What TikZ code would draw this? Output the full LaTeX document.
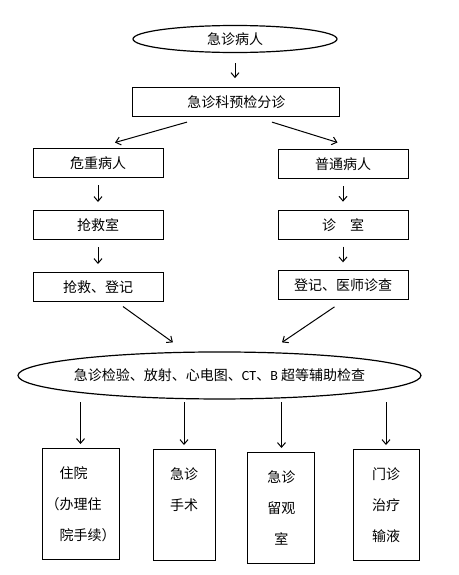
\documentclass[tikz,border=0pt]{standalone}
\usepackage{fontspec}
\setmainfont{Noto Sans CJK SC}
\newfontfamily\latinfont{Carlito}
\usetikzlibrary{arrows.meta, positioning, shapes, calc}

\begin{document}
\begin{tikzpicture}[node distance=24pt, line width=0.75pt,
    every node/.style={font=\fontsize{10.5pt}{23.25pt}\selectfont},
    box/.style={draw, rectangle, minimum width=97.5pt, minimum height=21.75pt, inner sep=0pt},
    oval/.style={draw, ellipse, inner sep=0pt, line width=0.9pt},
    tallbox/.style={draw, rectangle, minimum height=83.25pt, anchor=north},
    lines/.style={inner sep=0pt, align=center},
    arr/.style={-{Straight Barb[length=3.5pt, width=6pt]}}]
    \useasboundingbox (0,0) rectangle (343.5pt,-431.25pt);

    \node[oval, minimum width=153pt, minimum height=20.25pt] (patient) at (176.25pt,-29.25pt) {急诊病人};
    \node[box, minimum width=155.25pt, below=25.5pt of patient, xshift=1.1pt] (triage) {急诊科预检分诊};

    % left column
    \node[box] (critical) at (73.5pt,-122.25pt) {危重病人};
    \node[box, below=of critical] (rescueroom) {抢救室};
    \node[box, below=of rescueroom] (rescue) {抢救、登记};

    % right column
    \node[box] (normal) at (257.25pt,-123pt) {普通病人};
    \node[box, below=23pt of normal] (clinic) {诊\hspace{1em}室};
    \node[box, below=23pt of clinic] (doctor) {登记、医师诊查};

    \node[oval, inner xsep=-8pt, minimum width=302.25pt, minimum height=35.25pt] (exam) at (164.6pt,-281.6pt) {急诊检验、放射、心电图、{\latinfont CT}、{\latinfont B} 超等辅助检查};

    % outcomes
    \node[tallbox, minimum width=57.75pt] (inpatient) at (60.4pt,-336pt) {};
    \node[tallbox, minimum width=46.5pt] (surgery) at (138pt,-336.75pt) {};
    \node[tallbox, minimum width=50.25pt] (observe) at (211.1pt,-339pt) {};
    \node[tallbox, minimum width=49.5pt] (outpatient) at (289.5pt,-336.75pt) {};
    \node[lines, align=left, below=13.5pt of inpatient.north] (inpatienttext) {\hspace*{1em}住院\\（办理住\\\hspace*{1em}院手续）};
    \node[lines, below=13.5pt of surgery.north] (surgerytext) {急诊\\手术};
    \node[lines, below=13.5pt of observe.north] (observetext) {急诊\\留观\\室};
    \node[lines, below=13.5pt of outpatient.north] (outpatienttext) {门诊\\治疗\\输液};

    \draw[arr, shorten <=7.5pt, shorten >=6.75pt] (patient.south) -- (patient.south |- triage.north);
    \draw[arr] ($(triage.south)+(-37.1pt,-3.75pt)$) -- ($(critical.north)+(12.75pt,4.1pt)$);
    \draw[arr] ($(triage.south)+(26.6pt,-3.75pt)$) -- ($(normal.north)+(-4.1pt,4.9pt)$);
    \draw[arr, shorten <=5.25pt, shorten >=6pt] (critical) -- (rescueroom);
    \draw[arr, shorten <=5.25pt, shorten >=6pt] (rescueroom) -- (rescue);
    \draw[arr, shorten <=5.25pt, shorten >=6pt] (normal) -- (clinic);
    \draw[arr, shorten <=5.25pt, shorten >=6pt] (clinic) -- (doctor);
    \draw[arr] ($(rescue.south)+(18.75pt,-3.4pt)$) -- ($(exam.north)+(-34.9pt,6.75pt)$);
    \draw[arr] ($(doctor.south)+(-6.4pt,-4.9pt)$) -- ($(exam.north)+(46.9pt,6.75pt)$);
    \foreach \b in {inpatient, surgery, observe, outpatient}
        \draw[arr, shorten <=2pt, shorten >=3pt] (exam.south -| \b.north) -- (\b.north);
\end{tikzpicture}
\end{document}
